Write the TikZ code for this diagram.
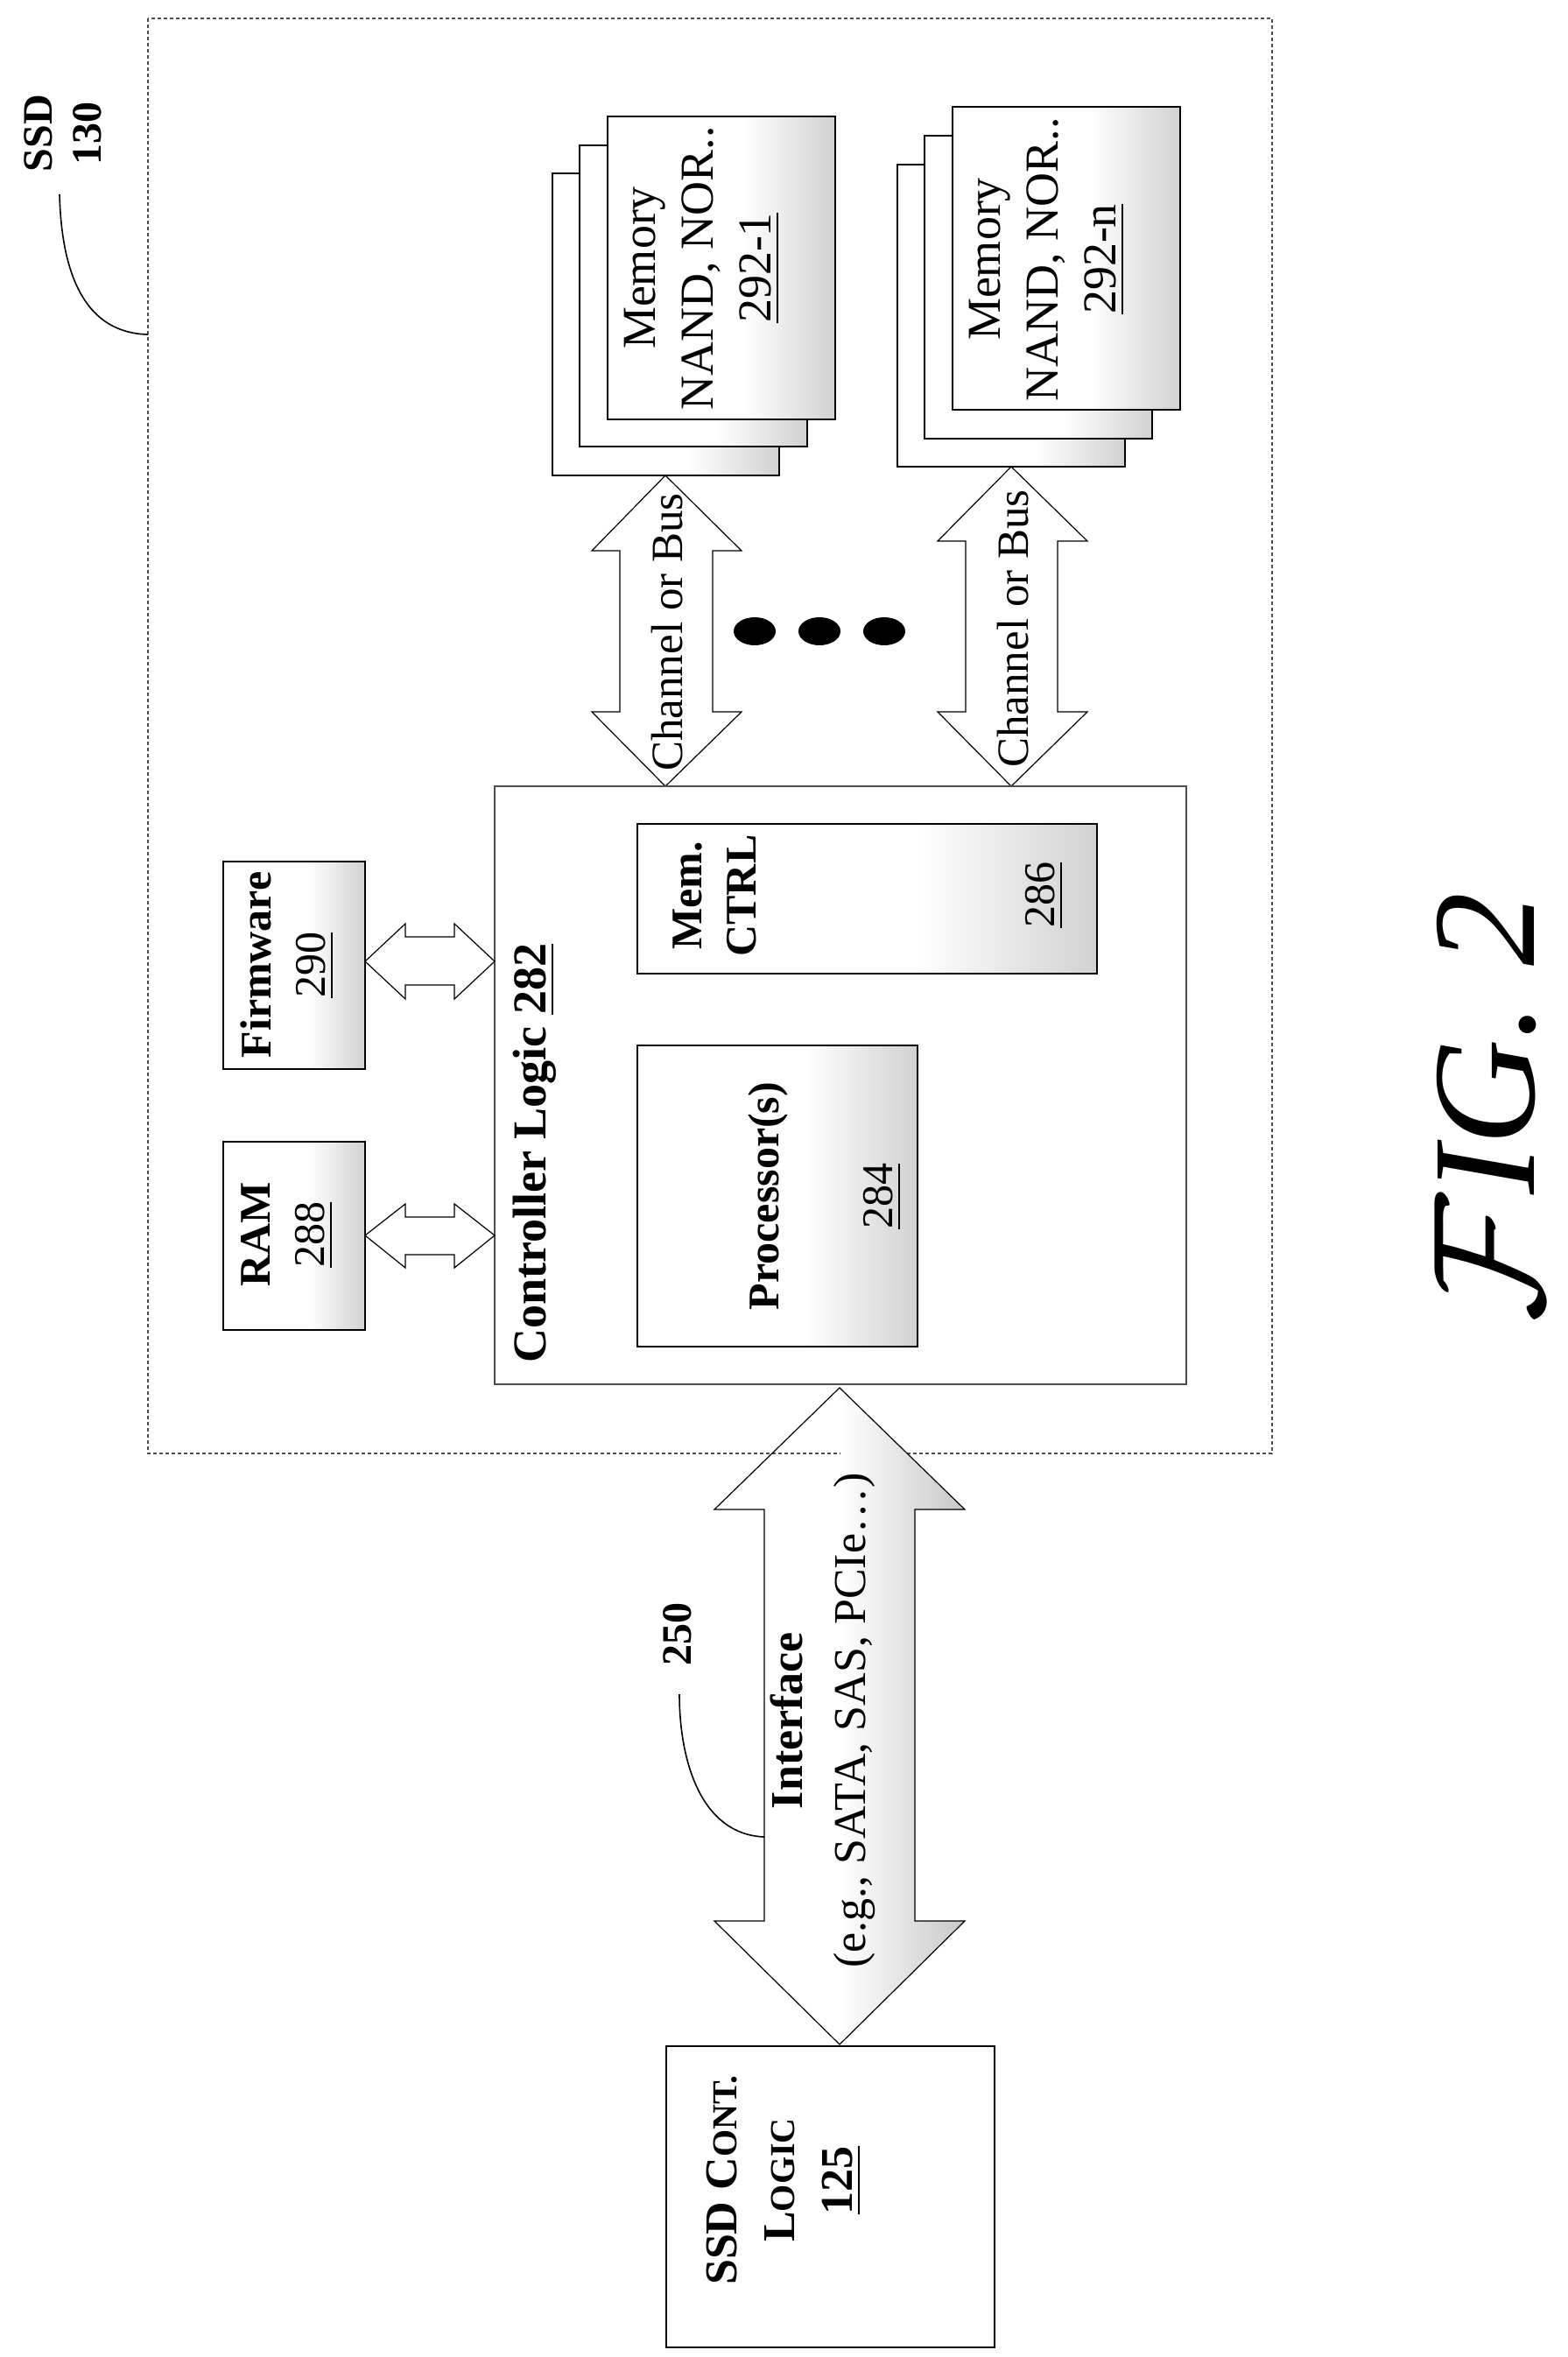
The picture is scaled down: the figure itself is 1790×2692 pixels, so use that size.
\documentclass[tikz,border=0pt]{standalone}
\usepackage{fontspec}
\setmainfont{Liberation Serif}
\usepackage{amsmath}
\begin{document}
\begin{tikzpicture}[x=0.5pt,y=-0.5pt,
  box/.style={draw=black,line width=0.6pt},
  dbox/.style={draw=black!70,line width=0.6pt,dash pattern=on 2pt off 1.5pt},
  shd/.style={left color=white,right color=black!18},
  rt/.style={rotate=90,align=center,inner sep=0pt},
  big/.style={font=\fontsize{27}{33}\selectfont},
  mid/.style={font=\fontsize{25}{31}\selectfont}]
\useasboundingbox (0,0) rectangle (1790,2692);
\newcommand{\shbox}[4]{\fill[white] (#1,#2) rectangle (#3,#4);
  \shade[shd] ({#1+0.6*(#3-#1)},#2) rectangle (#3,#4);
  \draw[box] (#1,#2) rectangle (#3,#4);}
% SSD box
\draw[dbox] (169,21) rectangle (1453,1660);
\node[rt,font=\bfseries\fontsize{24}{28}\selectfont] (ssdl) at (72,152) {SSD\\130};
\draw[line width=0.8pt] (169,382) .. controls (90,380) and (70,300) .. (68,222);
% memory stacks
\shbox{631}{198}{890}{543}
\shbox{662}{166}{922}{510}
\shbox{694}{133}{954}{479}
\node[rt,big] (m1) at (802,306) {Memory\\NAND, NOR..\\\underline{292-1}};
\shbox{1025}{188}{1285}{533}
\shbox{1056}{155}{1316}{501}
\shbox{1088}{122}{1348}{468}
\node[rt,big] (mn) at (1196,296) {Memory\\NAND, NOR..\\\underline{292-n}};
% channel arrows
\draw[box,fill=white] (760,543) -- (847,629) -- (814,629) -- (814,813) -- (847,813) -- (760,898)
  -- (676,813) -- (708,813) -- (708,629) -- (676,629) -- cycle;
\node[rt,font=\fontsize{25.5}{31}\selectfont] (ch1) at (762,722) {Channel or Bus};
\draw[box,fill=white] (1155,533) -- (1242,618) -- (1208,618) -- (1208,813) -- (1242,813) -- (1155,898)
  -- (1071,813) -- (1103,813) -- (1103,618) -- (1071,618) -- cycle;
\node[rt,font=\fontsize{25.5}{31}\selectfont] (ch2) at (1157,718) {Channel or Bus};
\foreach \x in {862,936,1010} \fill (\x,721) ellipse (24 and 16);
% controller
\draw[box,draw=black!70] (565,898) rectangle (1355,1581);
\node[rt,font=\bfseries\fontsize{27}{33}\selectfont] (cl) at (611,1317) {Controller Logic \underline{282}};
\shbox{728}{941}{1253}{1112}
\node[rt,font=\bfseries\fontsize{25}{31}\selectfont] (mc) at (816,1023) {Mem.\\CTRL};
\node[rt,mid] (mc2) at (1193,1022) {\underline{286}};
\shbox{728}{1194}{1048}{1538}
\node[rt,mid] (pr) at (942,1366) {\textbf{Processor(s)}\\[34pt]\underline{284}};
\shbox{255}{984}{417}{1221}
\node[rt,mid] (fw) at (328,1102) {\textbf{Firmware}\\\underline{290}};
\shbox{255}{1304}{417}{1519}
\node[rt,mid] (ram) at (328,1410) {\textbf{RAM}\\\underline{288}};
% small arrows
\draw[box,fill=white] (417,1098) -- (463,1055) -- (463,1070) -- (519,1070) -- (519,1055) -- (565,1098)
 -- (519,1141) -- (519,1125) -- (463,1125) -- (463,1141) -- cycle;
\draw[box,fill=white] (417,1411) -- (463,1375) -- (463,1390) -- (519,1390) -- (519,1375) -- (565,1411)
 -- (519,1448) -- (519,1433) -- (463,1433) -- (463,1448) -- cycle;
% interface arrow
\begin{scope}
\clip (959,1585) -- (1102,1724) -- (1045,1724) -- (1045,2194) -- (1102,2194) -- (959,2335)
 -- (816,2194) -- (873,2194) -- (873,1724) -- (816,1724) -- cycle;
\shade[left color=white,right color=black!22] (960,1580) rectangle (1105,2340);
\end{scope}
\draw[box] (959,1585) -- (1102,1724) -- (1045,1724) -- (1045,2194) -- (1102,2194) -- (959,2335)
 -- (816,2194) -- (873,2194) -- (873,1724) -- (816,1724) -- cycle;
\node[rt,font=\fontsize{26}{36}\selectfont] (if) at (940,1965) {\textbf{Interface}\\(e.g., SATA, SAS, PCIe\dots)};
\node[rt,font=\bfseries\fontsize{24}{28}\selectfont] (n250) at (774,1866) {250};
\draw[line width=0.8pt] (873,2098) .. controls (800,2095) and (776,2010) .. (776,1935);
% SSD cont logic
\draw[box,line width=1pt] (761,2337) rectangle (1136,2681);
\node[rt,font=\bfseries\fontsize{26}{33}\selectfont] (scl) at (896,2490) {SSD C{\fontsize{20}{33}\selectfont ONT.}\\L{\fontsize{20}{33}\selectfont OGIC}\\\underline{125}};
% fig label
\node[rt,font=\itshape\fontsize{84}{90}\selectfont] (fig) at (1700,1265) {\raisebox{-0.05em}{\scalebox{3.6}{$\mathcal{F}$}}IG. 2};
\end{tikzpicture}
\end{document}
